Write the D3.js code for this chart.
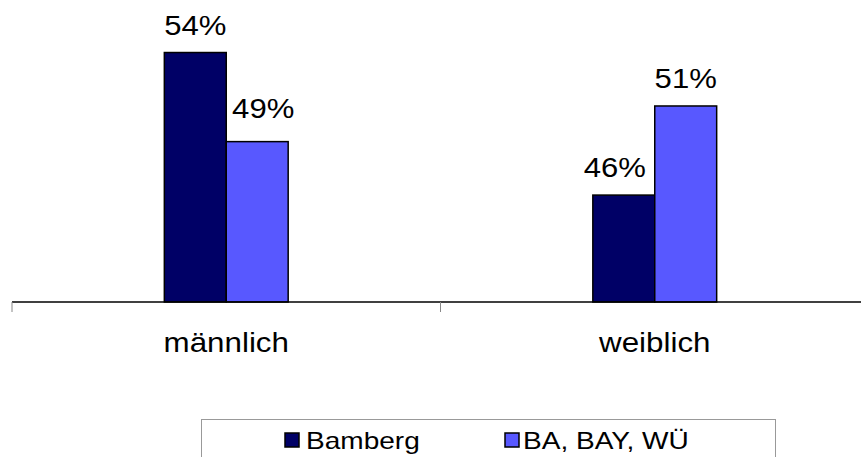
<!DOCTYPE html>
<html>
<head>
<meta charset="utf-8">
<script src="https://cdn.jsdelivr.net/npm/d3@7/dist/d3.min.js"></script>
<style>
  html, body { margin: 0; padding: 0; background: #fff; }
  svg { display: block; font-family: "Liberation Sans", Arial, sans-serif; }
</style>
</head>
<body>
<svg id="chart" width="861" height="457"></svg>
<script>
// Geschlechterverteilung: Bamberg vs. Vergleichsgruppe
const categories = ["männlich", "weiblich"];
const seriesNames = ["Bamberg", "BA, BAY, WÜ"];
const bambergValues = [54, 46];
const vergleichValues = [49, 51];
const seriesColors = ["#000066", "#5858ff"];

const series = [bambergValues, vergleichValues];

const svg = d3.select("#chart");
const W = 861, H = 457;

// Plot area
const baseY = 302;
const x0 = d3.scaleBand().domain(categories).range([12, 869])
  .paddingInner(0.711).paddingOuter(0.3555);
const x1 = d3.scaleBand().domain(d3.range(seriesNames.length))
  .range([0, x0.bandwidth()]);
const y = d3.scaleLinear().domain([40, 55]).range([baseY, baseY - 15 * 17.82]);

// Stretched text helper (wide Arial look)
function label(g, txt, x, yPos, size, sx, anchor) {
  return g.append("text")
    .attr("transform", `translate(${x},${yPos}) scale(${sx},1)`)
    .attr("text-anchor", anchor || "middle")
    .attr("font-size", size)
    .attr("fill", "#000")
    .text(txt);
}

// Bars
const gBars = svg.append("g");
categories.forEach((cat, ci) => {
  series.forEach((vals, si) => {
    const bx = x0(cat) + x1(si);
    gBars.append("rect")
      .attr("x", bx)
      .attr("y", y(vals[ci]))
      .attr("width", x1.bandwidth())
      .attr("height", y.range()[0] - y(vals[ci]))
      .attr("fill", seriesColors[si])
      .attr("stroke", "#000")
      .attr("stroke-width", 1.5);
  });
});

// Value labels (slight manual nudges as placed in the original layout)
const nudge = { "0-1": [6, -6], "1-0": [-9, 0] };
const gLab = svg.append("g");
categories.forEach((cat, ci) => {
  series.forEach((vals, si) => {
    const n = nudge[ci + "-" + si] || [0, 0];
    const cx = x0(cat) + x1(si) + x1.bandwidth() / 2 + n[0];
    label(gLab, vals[ci] + "%", cx, y(vals[ci]) - 18 + n[1], 28, 1.11);
  });
});

// Category axis
const axisG = svg.append("g");
axisG.append("line")
  .attr("x1", 12).attr("x2", W)
  .attr("y1", baseY).attr("y2", baseY)
  .attr("stroke", "#000").attr("stroke-width", 1.5);
const tickXs = [x0.range()[0], (x0(categories[0]) + x0.bandwidth() / 2 + x0(categories[1]) + x0.bandwidth() / 2) / 2];
tickXs.forEach(tx => {
  axisG.append("line")
    .attr("x1", tx).attr("x2", tx)
    .attr("y1", baseY).attr("y2", baseY + 10)
    .attr("stroke", "#888").attr("stroke-width", 1);
});
categories.forEach(cat => {
  label(axisG, cat, x0(cat) + x0.bandwidth() / 2, 352, 28, 1.12);
});

// Legend
const lg = svg.append("g");
lg.append("rect")
  .attr("x", 201.5).attr("y", 419.5)
  .attr("width", 574).attr("height", 60)
  .attr("fill", "#fff").attr("stroke", "#999").attr("stroke-width", 1);
const legendPos = [[285, 306], [505, 523]];
seriesNames.forEach((name, si) => {
  lg.append("rect")
    .attr("x", legendPos[si][0]).attr("y", 433)
    .attr("width", 14).attr("height", 14)
    .attr("fill", seriesColors[si])
    .attr("stroke", "#000").attr("stroke-width", 1.5);
  label(lg, name, legendPos[si][1], 449, 23, 1.22, "start");
});
</script>
</body>
</html>
